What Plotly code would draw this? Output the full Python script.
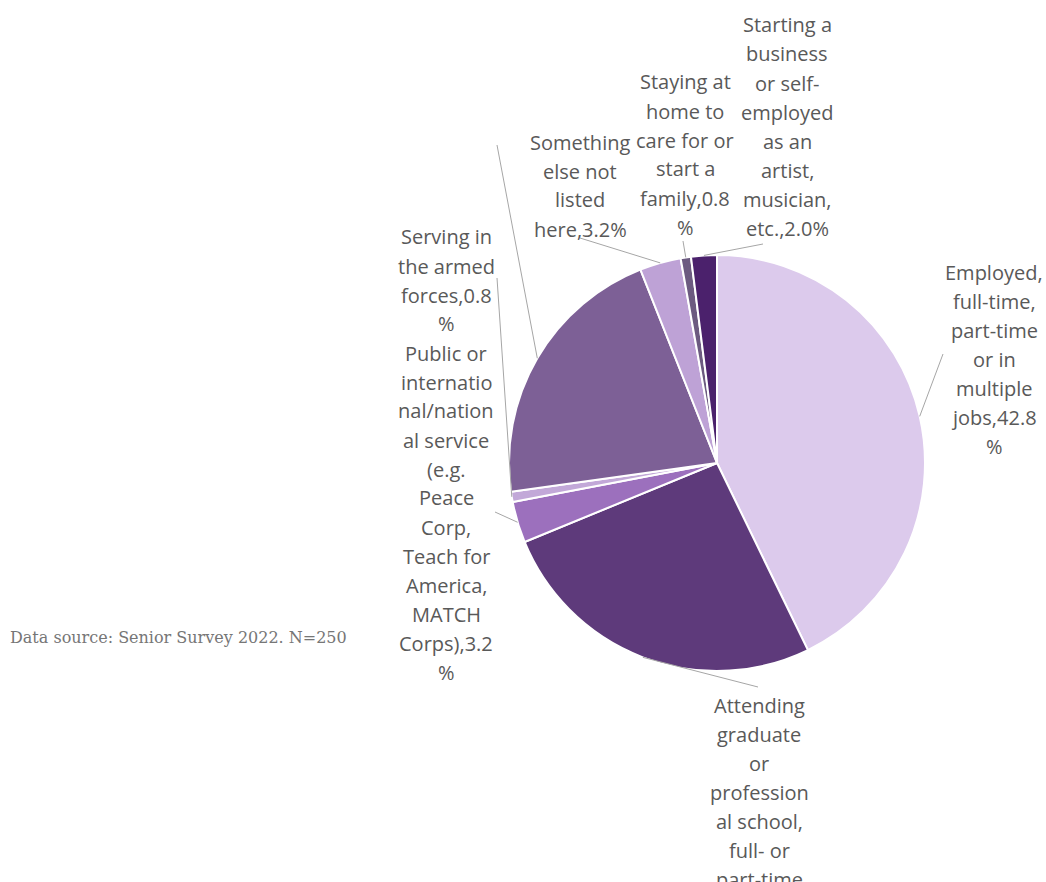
import numpy as np
import plotly.graph_objects as go

# Post-graduation plans of seniors (share of respondents, %)
categories = [
    "Employed, full-time, part-time or in multiple jobs",
    "Attending graduate or professional school, full- or part-time",
    "Public or international/national service (e.g. Peace Corp, Teach for America, MATCH Corps)",
    "Serving in the armed forces",
    "Seeking employment",
    "Something else not listed here",
    "Staying at home to care for or start a family",
    "Starting a business or self-employed as an artist, musician, etc.",
]
shares = [42.8, 26.0, 3.2, 0.8, 21.2, 3.2, 0.8, 2.0]
slice_colors = ["#dccaec", "#5e3a7b", "#9c70bd", "#c2a8d8",
                "#7d6096", "#bea2d6", "#6c5a80", "#4b216c"]

# Wrapped data-label text; {v} is filled from shares
label_templates = [
    "Employed,\nfull-time,\npart-time\nor in\nmultiple\njobs,{v}\n%",
    "Attending\ngraduate\nor\nprofession\nal school,\nfull- or\npart-time\n,{v}%",
    "Public or\ninternatio\nnal/nation\nal service\n(e.g.\nPeace\nCorp,\nTeach for\nAmerica,\nMATCH\nCorps),{v}\n%",
    "Serving in\nthe armed\nforces,{v}\n%",
    None,
    "Something\nelse not\nlisted\nhere,{v}%",
    "Staying at\nhome to\ncare for or\nstart a\nfamily,{v}\n%",
    "Starting a\nbusiness\nor self-\nemployed\nas an\nartist,\nmusician,\netc.,{v}%",
]

W, H = 1046, 882
CX, CY, R = 717, 463, 208          # pie centre and radius in pixels
LINE_STEP = 29                     # label line pitch in pixels

# label block placement: (centre x, first line y) in pixels
label_pos = [(994, 272), (759, 705), (446, 353), (446, 237),
             None, (580, 142), (685, 82), (787, 25)]
# leader line end points in pixels
leader_end = [(943, 354), (758, 687), (495, 512), (497, 278),
              (497, 145), (580, 238), (683, 241), (763, 244)]


def px(x, y):
    return x / W, 1 - y / H


fig = go.Figure()
fig.add_trace(go.Pie(
    labels=categories,
    values=shares,
    sort=False,
    direction="clockwise",
    rotation=0,
    marker=dict(colors=slice_colors, line=dict(color="white", width=2)),
    textinfo="none",
    hoverinfo="label+percent",
    showlegend=False,
    domain=dict(x=[(CX - R) / W, (CX + R) / W],
                y=[1 - (CY + R) / H, 1 - (CY - R) / H]),
))

total = sum(shares)
cum = np.cumsum([0] + shares)
shapes = []
annotations = []
for i, share in enumerate(shares):
    mid = (cum[i] + share / 2) / total * 2 * np.pi
    sx, sy = CX + R * np.sin(mid), CY - R * np.cos(mid)
    ex, ey = leader_end[i]
    x0, y0 = px(sx, sy)
    x1, y1 = px(ex, ey)
    shapes.append(dict(type="line", xref="paper", yref="paper",
                       x0=x0, y0=y0, x1=x1, y1=y1,
                       line=dict(color="#a6a6a6", width=1)))
    if label_templates[i] is None:
        continue
    lines = label_templates[i].format(v=f"{share:.1f}").split("\n")
    lx, ly = label_pos[i]
    for k, line in enumerate(lines):
        ax, ay = px(lx, ly + k * LINE_STEP)
        annotations.append(dict(
            text=line, x=ax, y=ay, xref="paper", yref="paper",
            xanchor="center", yanchor="middle", showarrow=False,
            font=dict(family="Open Sans", size=20, color="#595959")))

sx, sy = px(8, 637)
annotations.append(dict(
    text="Data source: Senior Survey 2022. N=250", x=sx, y=sy,
    xref="paper", yref="paper", xanchor="left", yanchor="middle",
    showarrow=False,
    font=dict(family="DejaVu Serif", size=16, color="#767676")))

fig.update_layout(
    width=W, height=H,
    margin=dict(l=0, r=0, t=0, b=0),
    paper_bgcolor="white", plot_bgcolor="white",
    shapes=shapes, annotations=annotations,
)

fig.write_html("out.html")
